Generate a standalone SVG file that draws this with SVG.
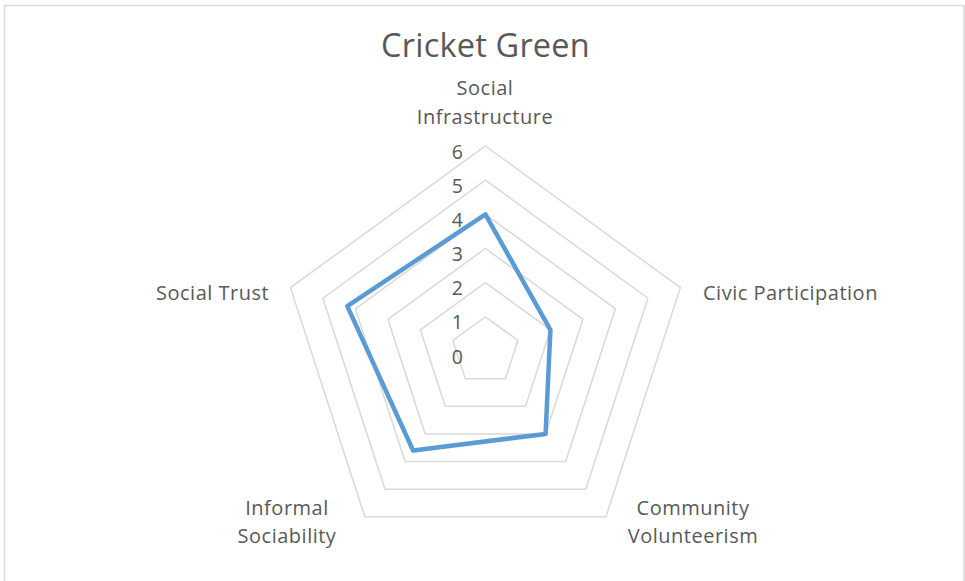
<svg xmlns="http://www.w3.org/2000/svg" width="965" height="581" viewBox="0 0 965 581">
<style>
.grid{fill:none;stroke:#D9D9D9;stroke-width:1.5}
.data{fill:none;stroke:#5B9BD5;stroke-width:4.5;stroke-linejoin:round}
text{font-family:"Open Sans",Lato,"Liberation Sans",sans-serif;fill:#595959}
.lbl{font-size:20px;letter-spacing:0.5px}
.tick{font-size:19.5px;text-anchor:end}
.c{text-anchor:middle}
</style>
<rect x="0" y="0" width="965" height="581" fill="#FFFFFF"/>
<rect x="4.5" y="5.5" width="959.5" height="580" fill="none" stroke="#D9D9D9" stroke-width="1.5"/>
<text x="485.5" y="56.5" class="c" font-size="32.5" letter-spacing="0.2">Cricket Green</text>
<g id="gridlines">
<polygon class="grid" points="485.4,316.83 517.9,340.44 505.5,378.64 465.3,378.64 452.9,340.44"/>
<polygon class="grid" points="485.4,282.67 550.4,329.89 525.6,406.28 445.2,406.28 420.4,329.89"/>
<polygon class="grid" points="485.4,248.5 582.9,319.33 545.6,433.92 425.2,433.92 387.9,319.33"/>
<polygon class="grid" points="485.4,214.33 615.4,308.77 565.7,461.57 405.1,461.57 355.4,308.77"/>
<polygon class="grid" points="485.4,180.17 647.9,298.21 585.8,489.21 385.0,489.21 322.9,298.21"/>
<polygon class="grid" points="485.4,146 680.4,287.66 605.9,516.85 364.9,516.85 290.4,287.66"/>
</g>
<g id="ticks">
<text class="tick" x="463" y="158.5">6</text>
<text class="tick" x="463" y="192.7">5</text>
<text class="tick" x="463" y="226.8">4</text>
<text class="tick" x="463" y="261">3</text>
<text class="tick" x="463" y="295.2">2</text>
<text class="tick" x="463" y="329.3">1</text>
<text class="tick" x="463" y="363.5">0</text>
</g>
<g id="series">
<polygon class="data" points="485.4,214.33 550.4,329.89 545.6,433.92 413.1,450.5 347.3,306.1"/>
</g>
<g id="axis-social-infrastructure">
<text class="lbl c" x="485" y="95">Social</text>
<text class="lbl c" x="485" y="123.5">Infrastructure</text>
</g>
<g id="axis-civic-participation">
<text class="lbl" x="703" y="300">Civic Participation</text>
</g>
<g id="axis-community-volunteerism">
<text class="lbl c" x="693" y="514.5">Community</text>
<text class="lbl c" x="693" y="543">Volunteerism</text>
</g>
<g id="axis-informal-sociability">
<text class="lbl c" x="287" y="514.5">Informal</text>
<text class="lbl c" x="287" y="543">Sociability</text>
</g>
<g id="axis-social-trust">
<text class="lbl" x="156" y="300">Social Trust</text>
</g>
</svg>
